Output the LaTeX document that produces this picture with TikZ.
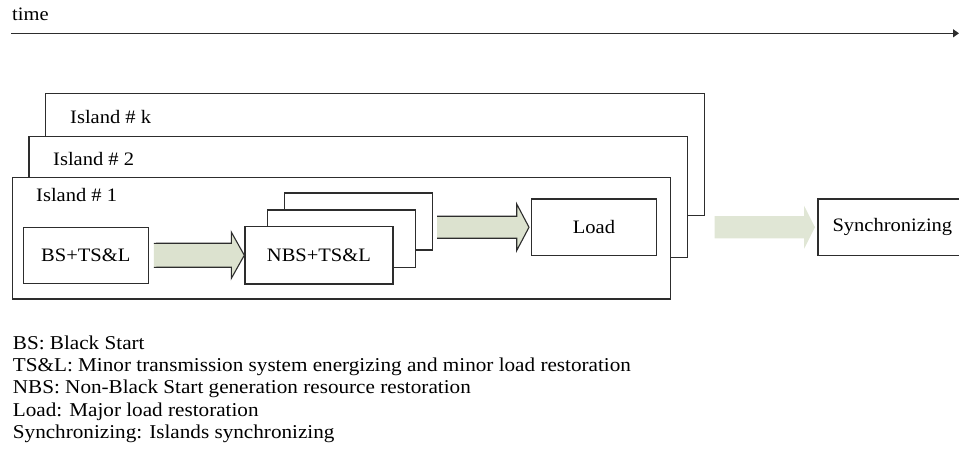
\documentclass[tikz,border=0pt]{standalone}
\usepackage{fontspec}
\setmainfont[FakeStretch=1.08]{Liberation Serif}
\usetikzlibrary{calc,arrows.meta}
\definecolor{edge}{RGB}{45,45,45}
\definecolor{arrfill}{RGB}{220,226,207}
\definecolor{arrfillb}{RGB}{224,230,213}
\tikzset{
  box/.style={draw=edge, line width=1.2pt, fill=white, inner sep=0pt, anchor=north west},
  txt/.style={font=\fontsize{19}{22}\selectfont, text=black, inner sep=0pt},
  legend/.style={font=\fontsize{19.6}{22}\selectfont, text=black, inner sep=0pt, anchor=base west},
  barrow/.style={draw=edge, line width=1.1pt, fill=arrfill, line join=miter},
  farrow/.style={fill=arrfillb, draw=none},
}
\begin{document}
\begin{tikzpicture}[x=1pt,y=-1pt]
\useasboundingbox (0,0) rectangle (959,460);
% time axis
\node[txt, anchor=base west] (time) at (12,20.5) {time};
\coordinate (t0) at (11,33.3);
\coordinate (t1) at (959,33.3);
\draw[edge, line width=1.4pt, -{Triangle[length=6pt,width=8pt]}] (t0) -- (t1);
% islands
\node[box, minimum width=659pt, minimum height=121.7pt] (islk) at (45,93.3) {};
\node[box, minimum width=658.7pt, minimum height=121pt] (isl2) at (28.3,136) {};
\node[box, minimum width=658.3pt, minimum height=121.3pt] (isl1) at (11.7,177) {};
\node[txt, anchor=west] (lk) at (70,116.7) {Island \# k};
\node[txt, anchor=west] (l2) at (53,159) {Island \# 2};
\node[txt, anchor=west] (l1) at (36,195) {Island \# 1};
% inner boxes
\node[box, minimum width=125pt, minimum height=56pt, font=\fontsize{19}{22}\selectfont] (bs) at (22.7,226.7) {BS+TS\&L};
\node[box, minimum width=147.7pt, minimum height=57pt] (nbs3) at (284,192.3) {};
\node[box, minimum width=148.3pt, minimum height=57.4pt] (nbs2) at (266.7,209.3) {};
\node[box, minimum width=148pt, minimum height=57.3pt, font=\fontsize{19}{22}\selectfont] (nbs) at (244.3,226) {NBS+TS\&L};
\node[box, minimum width=125.3pt, minimum height=56.7pt, font=\fontsize{19}{22}\selectfont] (load) at (530.7,198.3) {Load};
\node[box, minimum width=149pt, minimum height=56.7pt, font=\fontsize{19}{22}\selectfont] (sync) at (817.3,198.3) {Synchronizing};
% block arrows
\coordinate (s1) at ($(bs.east)+(5,0)$);
\coordinate (e1) at (nbs.west);
\path[barrow] ($(s1)+(0,-12)$) -- ($(e1)+(-13,-12)$) -- ($(e1)+(-13,-23.2)$) -- (e1)
  -- ($(e1)+(-13,23.2)$) -- ($(e1)+(-13,12)$) -- ($(s1)+(0,12)$);
\coordinate (s2) at ($(nbs3.east |- load.west)+(4.3,0)$);
\coordinate (e2) at ($(load.west)+(-1.7,0)$);
\path[barrow] ($(s2)+(0,-11)$) -- ($(e2)+(-12.3,-11)$) -- ($(e2)+(-12.3,-23.3)$) -- (e2)
  -- ($(e2)+(-12.3,23.3)$) -- ($(e2)+(-12.3,11)$) -- ($(s2)+(0,11)$);
\coordinate (s3) at ($(islk.east |- sync.west)+(9.3,0)$);
\coordinate (e3) at ($(sync.west)+(-2.3,0)$);
\path[farrow] ($(s3)+(0,-11.2)$) -- ($(e3)+(-11,-11.2)$) -- ($(e3)+(-11,-21.7)$) -- (e3)
  -- ($(e3)+(-11,21.7)$) -- ($(e3)+(-11,11.2)$) -- ($(s3)+(0,11.2)$) -- cycle;
% legend
\node[legend] (g1) at (12.7,349) {BS: Black Start};
\node[legend] (g2) at (12.7,371.5) {TS\&L: Minor transmission system energizing and minor load restoration};
\node[legend] (g3) at (12.7,393.5) {NBS: Non-Black Start generation resource restoration};
\node[legend] (g4) at (12.7,416) {Load: Major load restoration};
\node[legend] (g5) at (12.7,438.5) {Synchronizing: Islands synchronizing};
\end{tikzpicture}
\end{document}
